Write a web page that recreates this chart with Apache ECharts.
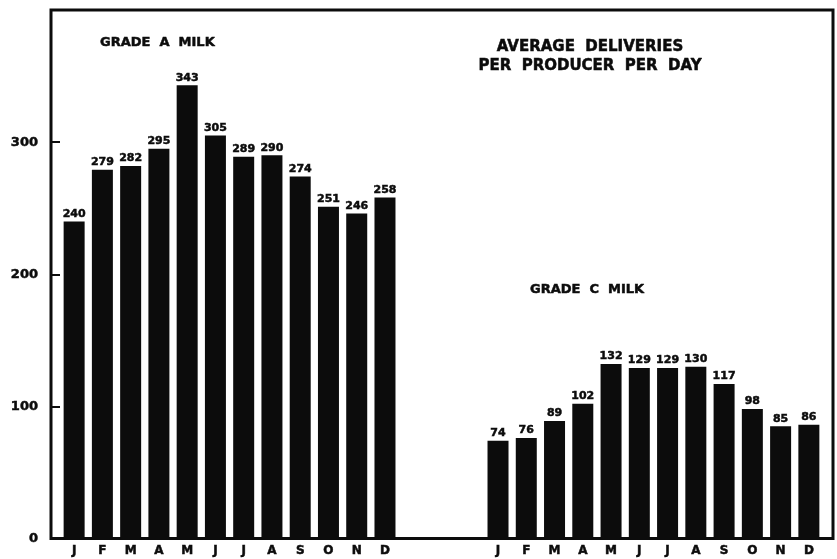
<!DOCTYPE html>
<html>
<head>
<meta charset="utf-8">
<script src="https://cdn.jsdelivr.net/npm/echarts@6/dist/echarts.min.js"></script>
<style>
  html, body { margin: 0; padding: 0; background: #fff; }
  #chart { width: 837px; height: 559px; }
</style>
</head>
<body>
<div id="chart"></div>
<script>
// Monthly average deliveries per producer per day (pounds)
const months = ['J', 'F', 'M', 'A', 'M', 'J', 'J', 'A', 'S', 'O', 'N', 'D'];
const gradeA = [240, 279, 282, 295, 343, 305, 289, 290, 274, 251, 246, 258];
const gradeC = [74, 76, 89, 102, 132, 129, 129, 130, 117, 98, 85, 86];
const yTicks = [0, 100, 200, 300];
const spacerSlots = 3;

const FONT = '"DejaVu Sans", "Liberation Sans", sans-serif';
const INK = '#0c0c0c';

// One category axis: Grade A months, a blank gap, then Grade C months
const spacer = new Array(spacerSlots).fill('');
const categories = months.concat(spacer, months);
const pad = n => new Array(n).fill(null);
const seriesA = gradeA.concat(pad(spacerSlots + months.length));
const seriesC = pad(months.length + spacerSlots).concat(gradeC);

// heavy lettering: bold face plus a thin outline in the same ink
const heavy = { fontFamily: FONT, fontWeight: 'bold', color: INK, textBorderColor: INK, textBorderWidth: 0.5 };

const valueLabel = Object.assign({
  show: true,
  position: 'top',
  distance: 2,
  fontSize: 11
}, heavy);

const chart = echarts.init(document.getElementById('chart'), null, { renderer: 'canvas' });

chart.setOption({
  backgroundColor: '#ffffff',
  animation: false,
  title: [
    {
      text: 'GRADE  A  MILK',
      left: 95, top: 31,
      textStyle: Object.assign({ fontSize: 13 }, heavy)
    },
    {
      text: 'AVERAGE  DELIVERIES\nPER  PRODUCER  PER  DAY',
      left: 585, top: 33, textAlign: 'center',
      textStyle: Object.assign({ fontSize: 15, lineHeight: 19, align: 'center' }, heavy)
    },
    {
      text: 'GRADE  C  MILK',
      left: 525, top: 278,
      textStyle: Object.assign({ fontSize: 13 }, heavy)
    }
  ],
  grid: [
    // outer frame
    { left: 51, right: 4, top: 10, bottom: 20.5, show: true, borderColor: INK, borderWidth: 3, backgroundColor: 'transparent' },
    // plotting area
    { left: 60, right: 14, top: 10, bottom: 20.5 }
  ],
  xAxis: [
    { gridIndex: 0, type: 'value', show: false },
    {
      gridIndex: 1,
      type: 'category',
      data: categories,
      axisLine: { show: false },
      axisTick: { show: false },
      axisLabel: Object.assign({ interval: 0, margin: 6, fontSize: 12 }, heavy)
    }
  ],
  yAxis: [
    { gridIndex: 0, type: 'value', show: false },
    {
      gridIndex: 1,
      type: 'value',
      min: 0,
      max: 400,
      interval: 100,
      offset: 9,
      axisLine: { show: false },
      axisTick: { show: true, inside: true, length: 9, lineStyle: { color: INK, width: 2 } },
      splitLine: { show: false },
      axisLabel: Object.assign({
        showMaxLabel: false,
        margin: 13,
        fontSize: 13,
        formatter: v => (yTicks.indexOf(v) >= 0 ? String(v) : '')
      }, heavy)
    }
  ],
  series: [
    {
      name: 'Grade A',
      type: 'bar',
      xAxisIndex: 1, yAxisIndex: 1,
      data: seriesA,
      barWidth: 21,
      barGap: '-100%',
      itemStyle: { color: INK },
      label: valueLabel
    },
    {
      name: 'Grade C',
      type: 'bar',
      xAxisIndex: 1, yAxisIndex: 1,
      data: seriesC,
      barWidth: 21,
      barGap: '-100%',
      itemStyle: { color: INK },
      label: valueLabel
    }
  ]
});
</script>
</body>
</html>
